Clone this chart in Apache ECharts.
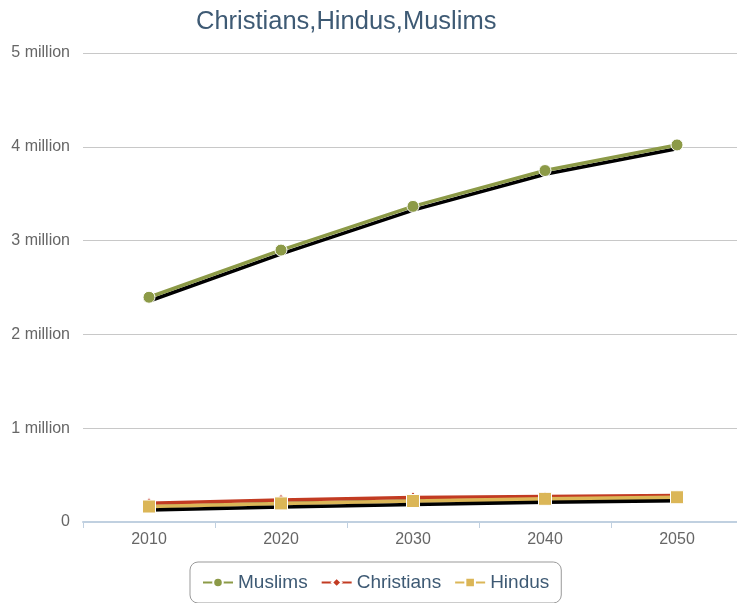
<!DOCTYPE html>
<html><head><meta charset="utf-8">
<script src="https://cdn.jsdelivr.net/npm/echarts@6/dist/echarts.min.js"></script>
<style>html,body{margin:0;padding:0;background:#fff;overflow:hidden;width:737px;height:603px}#c{width:745px;height:603px}</style>
</head><body><div id="c"></div>
<script>
const categories = ['2010','2020','2030','2040','2050'];
const muslims = [2396000, 2899000, 3365000, 3747000, 4020000];
const christians = [200000, 235000, 260000, 272000, 282000];
const hindus = [165000, 198000, 224000, 247000, 264000];
const yTicks = [0, 1000000, 2000000, 3000000, 4000000, 5000000];

const chart = echarts.init(document.getElementById('c'));
const font = '"Liberation Sans", Arial, sans-serif';
function lineSeries(name, data, color, symbol, size) {
  return {
    name, type: 'line', data, symbol, symbolSize: size,
    itemStyle: { color, borderColor: '#fff', borderWidth: 1 },
    lineStyle: { color, width: 3.5, shadowColor: '#000', shadowOffsetY: 3.5, shadowOffsetX: 1, shadowBlur: 0 },
    emphasis: { disabled: true }, animation: false
  };
}
chart.setOption({
  animation: false,
  textStyle: { fontFamily: font },
  title: { text: 'Christians,Hindus,Muslims', left: 191, top: 4,
    textStyle: { color: '#3e5a74', fontSize: 25.5, fontWeight: 'normal', fontFamily: font } },
  grid: { left: 83, top: 53, width: 660, bottom: 81 },
  xAxis: { type: 'category', data: categories, boundaryGap: true,
    axisLine: { lineStyle: { color: '#c0d0e0', width: 2 } },
    axisTick: { show: true, length: 6, lineStyle: { color: '#c0d0e0' } },
    axisLabel: { color: '#666', fontSize: 16, margin: 10, fontFamily: font } },
  yAxis: { type: 'value', min: yTicks[0], max: yTicks[yTicks.length-1], interval: 1000000,
    axisLine: { show: false }, axisTick: { show: false },
    splitLine: { lineStyle: { color: '#c8c8c8', width: 1 } },
    axisLabel: { color: '#666', fontSize: 16, margin: 13, fontFamily: font,
      formatter: v => v === 0 ? '0' : (v / 1000000) + ' million' } },
  legend: { top: 562, left: 190, itemWidth: 30, itemHeight: 12, itemGap: 13,
    padding: [11, 12, 11, 12],
    borderColor: '#999', borderWidth: 1, borderRadius: 8,
    textStyle: { color: '#3e5a74', fontSize: 19, fontFamily: font },
    data: ['Muslims', 'Christians', 'Hindus'] },
  series: [
    lineSeries('Muslims', muslims, '#8c9a47', 'circle', 12),
    lineSeries('Christians', christians, '#c23b22', 'diamond', 11),
    lineSeries('Hindus', hindus, '#dbb657', 'rect', 13)
  ]
});
</script></body></html>
